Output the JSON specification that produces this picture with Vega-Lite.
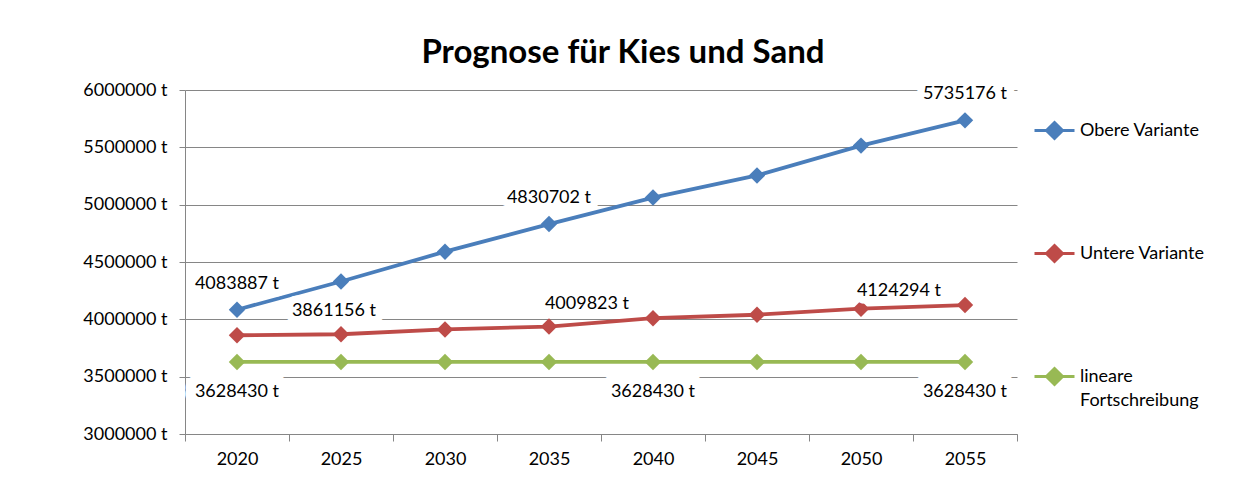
{
  "$schema": "https://vega.github.io/schema/vega-lite/v6.json",
  "autosize": {"type": "none"},
  "width": 832,
  "height": 344,
  "padding": {"left": 185, "top": 90, "right": 218, "bottom": 43},
  "background": "white",
  "config": {
    "view": {"stroke": null},
    "font": "Lato",
    "style": {"guide-label": {"lineHeight": 24}},
    "axis": {"labelFont": "Lato", "labelFontSize": 18, "labelColor": "#000000", "domainColor": "#868686", "tickColor": "#868686", "gridColor": "#868686", "gridWidth": 1, "gridOpacity": 1, "domainWidth": 1, "tickWidth": 1}
  },
  "title": {
    "text": "Prognose für Kies und Sand",
    "font": "Lato",
    "fontSize": 33,
    "fontWeight": "bold",
    "color": "#000000",
    "anchor": "middle",
    "frame": "group",
    "dx": 22,
    "offset": 11
  },
  "data": {
    "values": [
      {"Jahr": "2020", "Variante": "Obere Variante", "Menge": 4083887},
      {"Jahr": "2025", "Variante": "Obere Variante", "Menge": 4330000},
      {"Jahr": "2030", "Variante": "Obere Variante", "Menge": 4590000},
      {"Jahr": "2035", "Variante": "Obere Variante", "Menge": 4830702},
      {"Jahr": "2040", "Variante": "Obere Variante", "Menge": 5062000},
      {"Jahr": "2045", "Variante": "Obere Variante", "Menge": 5255000},
      {"Jahr": "2050", "Variante": "Obere Variante", "Menge": 5515000},
      {"Jahr": "2055", "Variante": "Obere Variante", "Menge": 5735176},
      {"Jahr": "2020", "Variante": "Untere Variante", "Menge": 3861156},
      {"Jahr": "2025", "Variante": "Untere Variante", "Menge": 3870000},
      {"Jahr": "2030", "Variante": "Untere Variante", "Menge": 3912000},
      {"Jahr": "2035", "Variante": "Untere Variante", "Menge": 3937000},
      {"Jahr": "2040", "Variante": "Untere Variante", "Menge": 4009823},
      {"Jahr": "2045", "Variante": "Untere Variante", "Menge": 4040000},
      {"Jahr": "2050", "Variante": "Untere Variante", "Menge": 4093000},
      {"Jahr": "2055", "Variante": "Untere Variante", "Menge": 4124294},
      {"Jahr": "2020", "Variante": "lineare Fortschreibung", "Menge": 3628430},
      {"Jahr": "2025", "Variante": "lineare Fortschreibung", "Menge": 3628430},
      {"Jahr": "2030", "Variante": "lineare Fortschreibung", "Menge": 3628430},
      {"Jahr": "2035", "Variante": "lineare Fortschreibung", "Menge": 3628430},
      {"Jahr": "2040", "Variante": "lineare Fortschreibung", "Menge": 3628430},
      {"Jahr": "2045", "Variante": "lineare Fortschreibung", "Menge": 3628430},
      {"Jahr": "2050", "Variante": "lineare Fortschreibung", "Menge": 3628430},
      {"Jahr": "2055", "Variante": "lineare Fortschreibung", "Menge": 3628430}
    ]
  },
  "transform": [
    {"calculate": "format(datum.Menge, 'd') + ' t'", "as": "Beschriftung"}
  ],
  "encoding": {
    "x": {
      "field": "Jahr", "type": "ordinal", "title": null,
      "scale": {"paddingInner": 0, "paddingOuter": 0},
      "axis": {"labelAngle": 0, "tickBand": "extent", "tickSize": 7, "labelPadding": 9, "grid": false}
    },
    "y": {
      "field": "Menge", "type": "quantitative", "title": null,
      "scale": {"domain": [3000000, 6000000], "nice": false, "zero": false},
      "axis": {"values": [3000000, 3500000, 4000000, 4500000, 5000000, 5500000, 6000000], "labelExpr": "format(datum.value, 'd') + ' t'", "tickSize": 6, "labelPadding": 12, "grid": true}
    }
  },
  "layer": [
    {
      "mark": {"type": "line", "strokeWidth": 3.8},
      "encoding": {
        "color": {
          "field": "Variante", "type": "nominal", "sort": null,
          "scale": {"domain": ["Obere Variante", "Untere Variante", "lineare Fortschreibung"], "range": ["#4A7EBB", "#BE4B48", "#98B954"]},
          "legend": {
            "title": null,
            "orient": "none",
            "legendX": 848,
            "legendY": 19,
            "padding": 0,
            "symbolType": "M-1,0L1,0M0,-0.4L0.4,0L0,0.4L-0.4,0Z",
            "symbolSize": 1600,
            "symbolStrokeWidth": 3,
            "labelFont": "Lato",
            "labelFontSize": 18,
            "labelColor": "#000000",
            "labelOffset": 4,
            "rowPadding": 87,
            "labelExpr": "datum.label == 'lineare Fortschreibung' ? ['lineare', 'Fortschreibung'] : datum.label",
            "encode": {"symbols": {"update": {"fill": {"scale": "color", "field": "value"}, "stroke": {"scale": "color", "field": "value"}}}}
          }
        }
      }
    },
    {
      "mark": {"type": "point", "shape": "diamond", "filled": true, "size": 270, "opacity": 1},
      "encoding": {"color": {"field": "Variante", "type": "nominal", "legend": null}}
    },
    {
      "transform": [{"filter": "datum.Variante == 'Obere Variante' && (datum.Jahr == '2020' || datum.Jahr == '2035' || datum.Jahr == '2055')"}],
      "mark": {"type": "text", "font": "Lato", "fontSize": 18, "baseline": "middle", "dy": -26, "fill": "white", "stroke": "white", "strokeWidth": 15, "strokeJoin": "round"},
      "encoding": {"text": {"field": "Beschriftung"}}
    },
    {
      "transform": [{"filter": "datum.Variante == 'Untere Variante' && datum.Jahr == '2020'"}],
      "mark": {"type": "text", "font": "Lato", "fontSize": 18, "baseline": "middle", "dx": 97, "dy": -24, "fill": "white", "stroke": "white", "strokeWidth": 15, "strokeJoin": "round"},
      "encoding": {"text": {"field": "Beschriftung"}}
    },
    {
      "transform": [{"filter": "datum.Variante == 'Untere Variante' && (datum.Jahr == '2040' || datum.Jahr == '2055')"}],
      "mark": {"type": "text", "font": "Lato", "fontSize": 18, "baseline": "middle", "dx": -66, "dy": -14, "fill": "white", "stroke": "white", "strokeWidth": 15, "strokeJoin": "round"},
      "encoding": {"text": {"field": "Beschriftung"}}
    },
    {
      "transform": [{"filter": "datum.Variante == 'lineare Fortschreibung' && (datum.Jahr == '2020' || datum.Jahr == '2040' || datum.Jahr == '2055')"}],
      "mark": {"type": "text", "font": "Lato", "fontSize": 18, "baseline": "middle", "dy": 30, "fill": "white", "stroke": "white", "strokeWidth": 21, "strokeJoin": "round"},
      "encoding": {"text": {"field": "Beschriftung"}}
    },
    {
      "transform": [{"filter": "datum.Variante == 'Obere Variante' && (datum.Jahr == '2020' || datum.Jahr == '2035' || datum.Jahr == '2055')"}],
      "mark": {"type": "text", "font": "Lato", "fontSize": 18, "baseline": "middle", "dy": -26, "fill": "#000000"},
      "encoding": {"text": {"field": "Beschriftung"}}
    },
    {
      "transform": [{"filter": "datum.Variante == 'Untere Variante' && datum.Jahr == '2020'"}],
      "mark": {"type": "text", "font": "Lato", "fontSize": 18, "baseline": "middle", "dx": 97, "dy": -24, "fill": "#000000"},
      "encoding": {"text": {"field": "Beschriftung"}}
    },
    {
      "transform": [{"filter": "datum.Variante == 'Untere Variante' && (datum.Jahr == '2040' || datum.Jahr == '2055')"}],
      "mark": {"type": "text", "font": "Lato", "fontSize": 18, "baseline": "middle", "dx": -66, "dy": -14, "fill": "#000000"},
      "encoding": {"text": {"field": "Beschriftung"}}
    },
    {
      "transform": [{"filter": "datum.Variante == 'lineare Fortschreibung' && (datum.Jahr == '2020' || datum.Jahr == '2040' || datum.Jahr == '2055')"}],
      "mark": {"type": "text", "font": "Lato", "fontSize": 18, "baseline": "middle", "dy": 30, "fill": "#000000"},
      "encoding": {"text": {"field": "Beschriftung"}}
    }
  ]
}
